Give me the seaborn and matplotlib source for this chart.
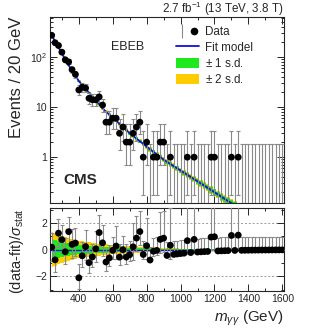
import numpy as np
import matplotlib
matplotlib.use("Agg")
import matplotlib.pyplot as plt
import matplotlib.ticker as mticker
from matplotlib.lines import Line2D
from matplotlib.patches import Patch
from matplotlib.legend_handler import HandlerTuple
import seaborn as sns

# ---------------- data ----------------
bin_centers = list(range(240, 1601, 20))  # 20 GeV bins
counts = [272, 193, 170, 125, 88, 80, 56, 45, 22, 25,
          24, 15, 14, 14, 16, 11, 5, 5, 6, 6,
          3, 4, 2, 2, 3, 4, 5, 1, 2, 0,
          1, 1, 2, 2, 0, 1, 0, 0, 0, 0,
          1, 0, 1, 0, 0, 0, 0, 1, 1, 0,
          0, 0, 0, 1, 0, 1, 0, 0, 0, 0,
          0, 0, 0, 0, 0, 0, 0, 0, 0]

fit_mass = [230, 260, 300, 350, 400, 450, 500, 550, 600, 700, 800, 900,
            1000, 1100, 1200, 1300, 1400, 1610]
fit_vals = [309, 204, 117, 60, 33, 21, 13.8, 8.7, 6.2, 3.0, 1.62, 0.89,
            0.54, 0.33, 0.20, 0.12, 0.075, 0.03]

# +-1 / +-2 s.d. half widths of the fit band in the top panel (decades)
top_band_mass = [240, 400, 600, 800, 1000, 1200, 1300, 1610]
top_band1 = [0.008, 0.012, 0.02, 0.03, 0.04, 0.055, 0.065, 0.08]
top_band2 = [0.016, 0.022, 0.032, 0.045, 0.058, 0.072, 0.085, 0.1]

# band half widths in the ratio panel
res_band_mass = [240, 300, 400, 500, 600, 700, 800, 900, 1000, 1100, 1200, 1610]
res_band1 = [0.8, 0.55, 0.35, 0.25, 0.19, 0.14, 0.1, 0.07, 0.04, 0.025, 0.015, 0.0]
res_band2 = [1.3, 1.0, 0.65, 0.47, 0.36, 0.27, 0.2, 0.13, 0.08, 0.05, 0.03, 0.0]

lumi_text = r"2.7 fb$^{-1}$ (13 TeV, 3.8 T)"
category = "EBEB"

# ---------------- derived quantities ----------------
GLO = {0: 0.0, 1: 0.173, 2: 0.708, 3: 1.367, 4: 2.086, 5: 2.840, 6: 3.620}
GHI = {0: 1.841, 1: 3.300, 2: 4.638, 3: 5.918, 4: 7.163, 5: 8.382, 6: 9.584}

x = np.array(bin_centers, float)
n = np.array(counts, float)
lo = np.array([GLO[c] if c in GLO else c + 0.5 - np.sqrt(c + 0.25) for c in counts])
hi = np.array([GHI[c] if c in GHI else c + 0.5 + np.sqrt(c + 0.25) for c in counts])

logfit = lambda m: np.interp(m, fit_mass, np.log10(fit_vals))
fit_b = 10 ** logfit(x)

sig = np.where(n > fit_b, n - lo, hi - n)
res = (n - fit_b) / sig
res_lo = (n - lo) / sig
res_hi = (hi - n) / sig

# ---------------- style ----------------
sns.set_style("ticks")
plt.rcParams["font.family"] = ["Liberation Sans", "DejaVu Sans"]
plt.rcParams["mathtext.fontset"] = "custom"
plt.rcParams["mathtext.rm"] = "Liberation Sans"
plt.rcParams["mathtext.it"] = "Liberation Sans:italic"
plt.rcParams["mathtext.bf"] = "Liberation Sans:bold"
plt.rcParams["axes.linewidth"] = 0.8

GREEN = "#1ee81e"
YELLOW = "#ffcc00"
BLUE = "#1010e0"
ERRC = "#8a8a8a"

W, H = 316, 331
fig = plt.figure(figsize=(W / 100, H / 100), dpi=100)
L, R = 50, 284
ax = fig.add_axes([L / W, 1 - 203.3 / H, (R - L) / W, (203.3 - 17) / H])
ax2 = fig.add_axes([L / W, 1 - 291 / H, (R - L) / W, (291 - 208.3) / H])

XMIN, XMAX = 230, 1610

# ---------------- top panel ----------------
b1 = np.interp(x, top_band_mass, top_band1)
b2 = np.interp(x, top_band_mass, top_band2)
lf = logfit(x)
ax.fill_between(x, 10 ** (lf - b2), 10 ** (lf + b2), step="mid", color=YELLOW, lw=0, zorder=1)
ax.fill_between(x, 10 ** (lf - b1), 10 ** (lf + b1), step="mid", color=GREEN, lw=0, zorder=2)
mfine = np.linspace(XMIN, XMAX, 400)
sns.lineplot(x=mfine, y=10 ** logfit(mfine), ax=ax, color=BLUE, lw=1.3, zorder=3)

ybot = np.maximum(lo, 1e-3)
ax.errorbar(x, hi, yerr=[hi - ybot, np.zeros_like(hi)], fmt="none", ecolor=ERRC,
            elinewidth=0.8, capsize=1.3, capthick=0.8, zorder=4)
mask = n > 0
sns.scatterplot(x=x[mask], y=n[mask], ax=ax, color="black", s=24, edgecolor="none", zorder=5)

ax.set_yscale("log")
ax.set_xlim(XMIN, XMAX)
ax.set_ylim(0.12, 630)
ax.set_xlabel("")
ax.set_ylabel("")
ax.yaxis.set_major_locator(mticker.FixedLocator([1, 10, 100]))
ax.yaxis.set_major_formatter(mticker.FixedFormatter(["1", "10", r"$10^2$"]))
ax.yaxis.set_minor_locator(mticker.LogLocator(subs=np.arange(2, 10)))
ax.yaxis.set_minor_formatter(mticker.NullFormatter())
ax.xaxis.set_major_locator(mticker.MultipleLocator(200))
ax.xaxis.set_minor_locator(mticker.MultipleLocator(100))
ax.tick_params(axis="x", labelbottom=False)
for a in (ax, ax2):
    a.tick_params(which="both", direction="in", top=True, right=True, labelsize=7.5, width=0.7, pad=2)
    a.tick_params(which="major", length=5)
    a.tick_params(which="minor", length=2.5)

fig.text(128 / W, 1 - 47 / H, category, fontsize=9, ha="center", va="center")
fig.text(63 / W, 1 - 180 / H, "CMS", fontsize=11, fontweight="bold", ha="left", va="center")
fig.text(R / W, 1 - 13 / H, lumi_text, fontsize=8.4, ha="right", va="baseline")

# legend
h_data = (Line2D([], [], marker="|", color=ERRC, ms=10, mew=0.8, ls="none"),
          Line2D([], [], marker="o", color="black", ms=4.5, ls="none"))
h_fit = Line2D([], [], color=BLUE, lw=1.3)
h_1 = Patch(facecolor=GREEN, edgecolor="none")
h_2 = Patch(facecolor=YELLOW, edgecolor="none")
ax.legend([h_data, h_fit, h_1, h_2], ["Data", "Fit model", r"$\pm$ 1 s.d.", r"$\pm$ 2 s.d."],
          handler_map={tuple: HandlerTuple(ndivide=None)},
          loc="upper left", bbox_to_anchor=(176 / W, 1 - 26 / H), bbox_transform=fig.transFigure,
          frameon=False, fontsize=8.4, borderaxespad=0, borderpad=0, labelspacing=0.28,
          handlelength=2.0, handleheight=1.0, handletextpad=0.5)

fig.text(17 / W, 1 - 17 / H, "Events / 20 GeV", rotation=90, fontsize=12, ha="center", va="top")

# ---------------- ratio panel ----------------
rb1 = np.interp(x, res_band_mass, res_band1)
rb2 = np.interp(x, res_band_mass, res_band2)
ax2.fill_between(x, -rb2, rb2, step="mid", color=YELLOW, lw=0, zorder=1)
ax2.fill_between(x, -rb1, rb1, step="mid", color=GREEN, lw=0, zorder=2)
ax2.axhline(0, color=BLUE, lw=1.0, zorder=3)
for yv in (-2, 2):
    ax2.axhline(yv, color="#9a9a9a", lw=0.7, ls=(0, (2, 2)), zorder=0)
ax2.errorbar(x, res, yerr=[res_lo, res_hi], fmt="none", ecolor=ERRC,
             elinewidth=0.8, capsize=1.3, capthick=0.8, zorder=4)
sns.scatterplot(x=x, y=res, ax=ax2, color="black", s=24, edgecolor="none", zorder=5)
ax2.set_xlim(XMIN, XMAX)
ax2.set_ylim(-3.1, 3.1)
ax2.set_xlabel("")
ax2.set_ylabel("")
ax2.yaxis.set_major_locator(mticker.FixedLocator([-2, 0, 2]))
ax2.yaxis.set_minor_locator(mticker.MultipleLocator(1))
ax2.xaxis.set_major_locator(mticker.MultipleLocator(200))
ax2.xaxis.set_minor_locator(mticker.MultipleLocator(100))
ax2.xaxis.set_major_formatter(mticker.FuncFormatter(lambda v, p: f"{v:.0f}"))

fig.text(17 / W, 1 - 208 / H, r"(data-fit)/$\sigma_{\mathrm{stat}}$", rotation=90, fontsize=10.5,
         ha="center", va="top")
fig.text(R / W, 1 - 322 / H, r"$m_{\gamma\gamma}$ (GeV)", fontsize=11, ha="right", va="baseline")

fig.savefig("out.png", dpi=100)
